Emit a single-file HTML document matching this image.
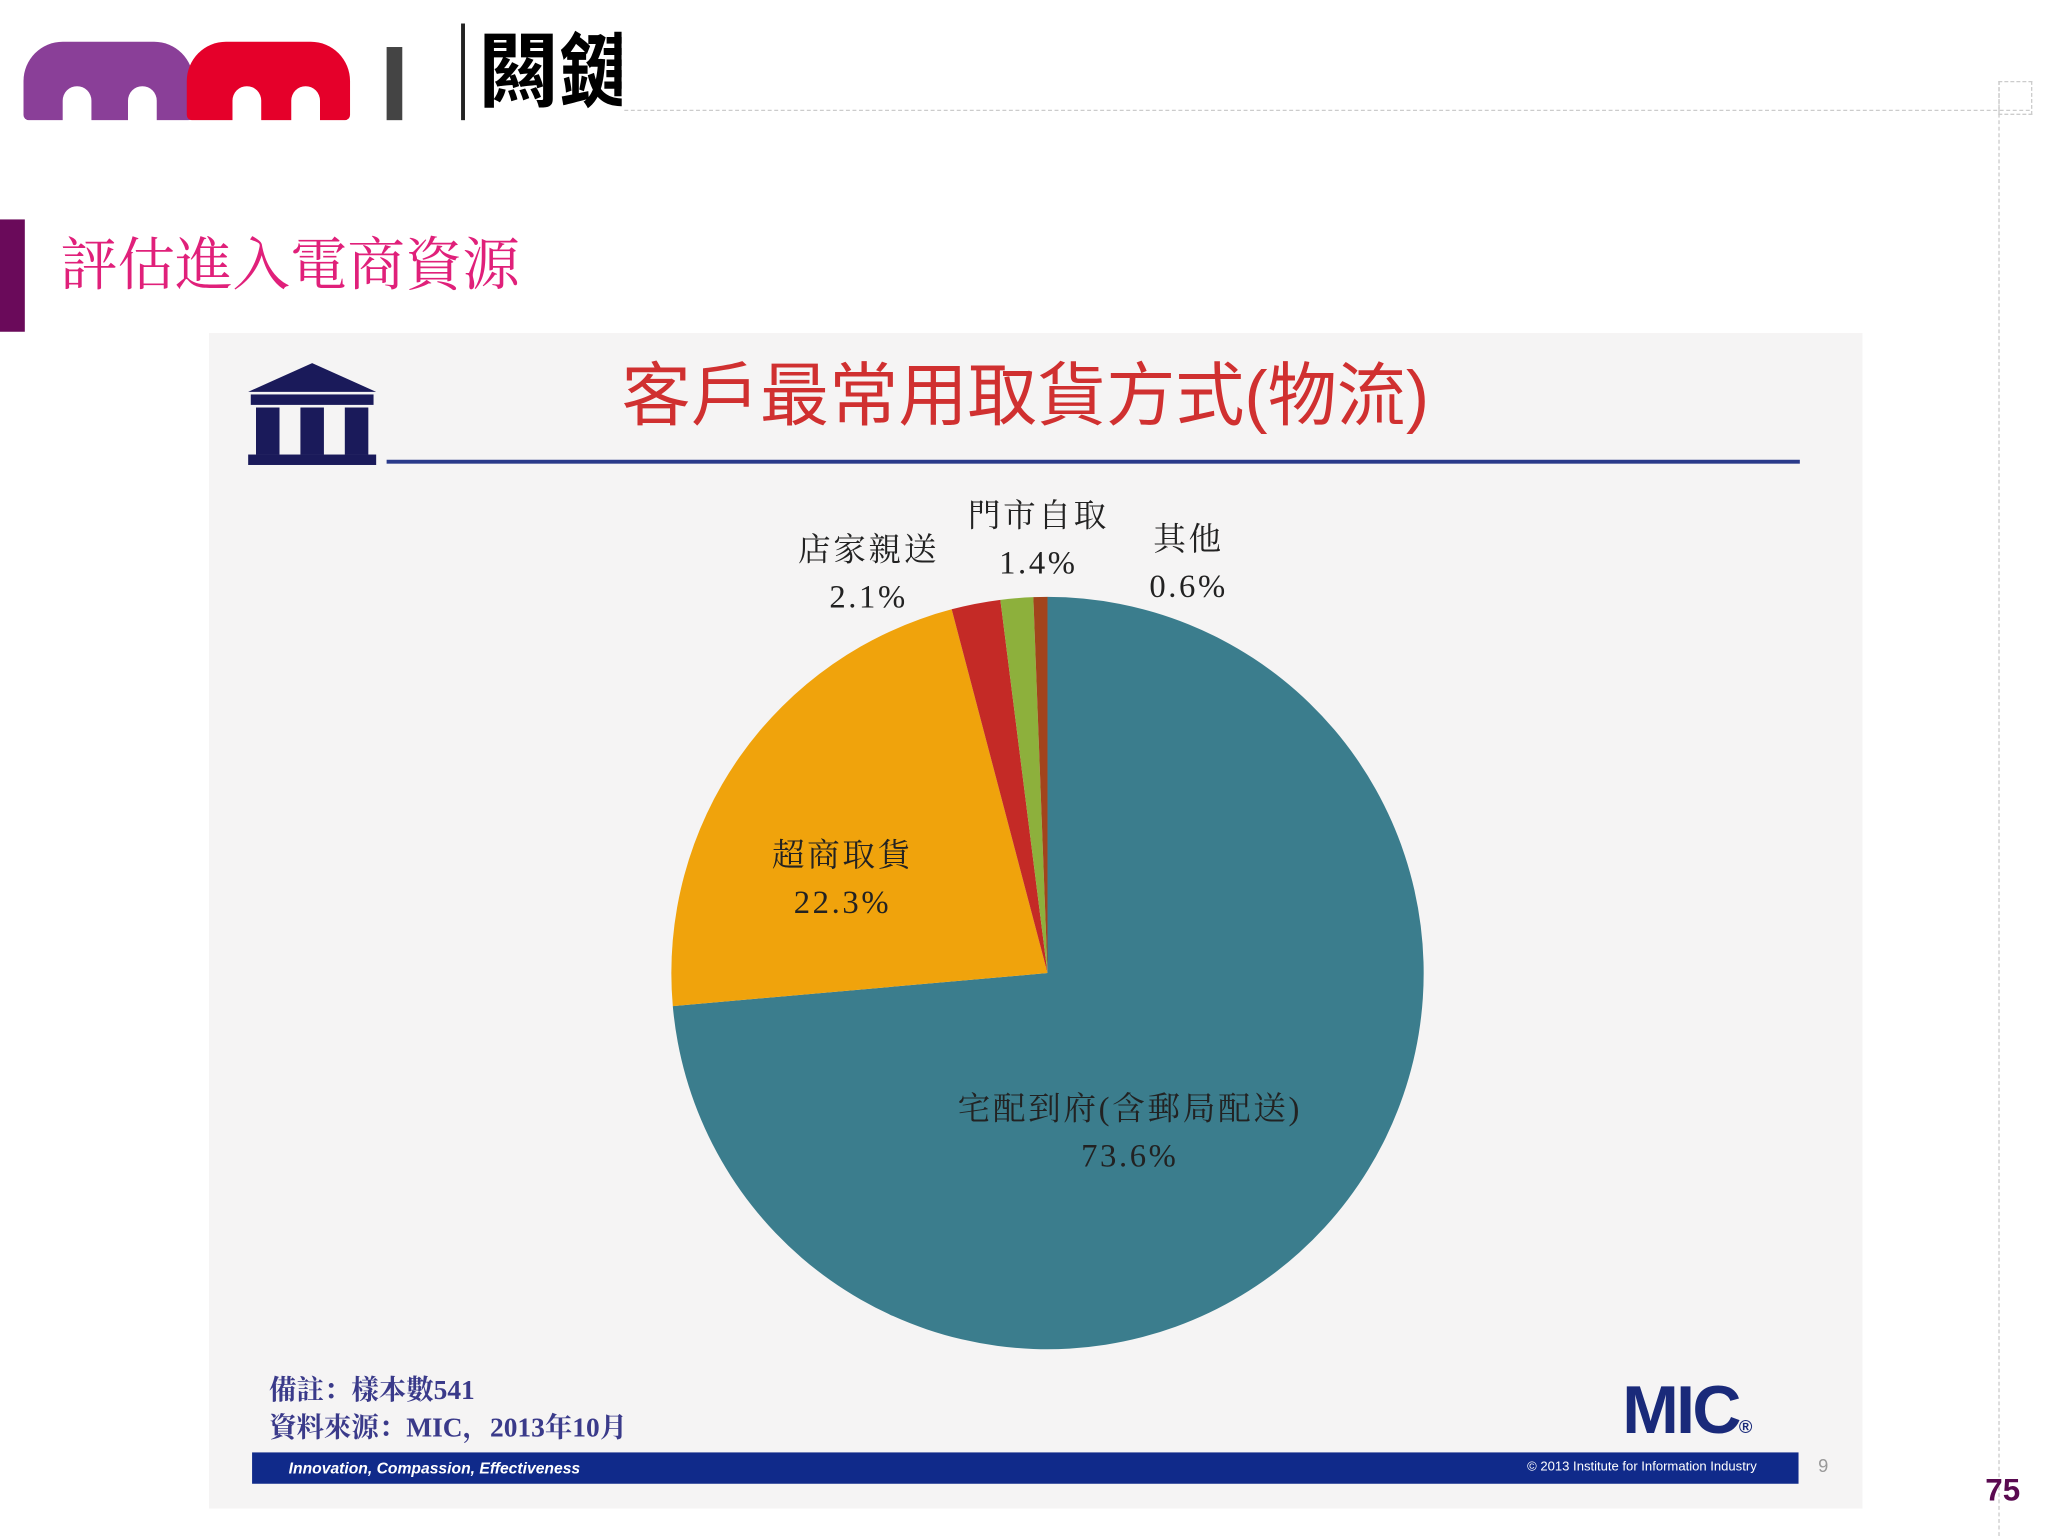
<!DOCTYPE html>
<html><head><meta charset="utf-8">
<style>
html,body{margin:0;padding:0;background:#fff;width:2048px;height:1536px;overflow:hidden}
#wrap{position:absolute;left:0;top:0;width:1568px;height:1176px;transform:scale(1.306122);transform-origin:0 0;font-family:"Liberation Serif","Noto Serif CJK SC",serif}
.abs{position:absolute}
.lbl{position:absolute;text-align:center;font-size:25px;color:#222;line-height:36px;letter-spacing:2px}
</style></head>
<body>
<div id="wrap">
  <div class="abs" style="left:18px;top:24px;width:460px;height:90px">
    <div class="abs" style="left:0;top:8px;width:130px;height:60px;background:#8a3f98;border-radius:30px 30px 4px 4px"></div>
    <div class="abs" style="left:125px;top:8px;width:125px;height:60px;background:#e5002a;border-radius:30px 30px 4px 4px"></div>
    <div class="abs" style="left:30px;top:42px;width:22px;height:30px;background:#fff;border-radius:11px 11px 0 0"></div>
    <div class="abs" style="left:80px;top:42px;width:22px;height:30px;background:#fff;border-radius:11px 11px 0 0"></div>
    <div class="abs" style="left:160px;top:42px;width:22px;height:30px;background:#fff;border-radius:11px 11px 0 0"></div>
    <div class="abs" style="left:205px;top:42px;width:22px;height:30px;background:#fff;border-radius:11px 11px 0 0"></div>
    <div class="abs" style="left:278px;top:12px;width:12px;height:56px;background:#444"></div>
    <div class="abs" style="left:335px;top:-6px;width:3px;height:74px;background:#222"></div>
    <div class="abs" style="left:348px;top:-2px;font-family:'Liberation Sans','Noto Sans CJK TC',sans-serif;font-weight:bold;font-size:62px;line-height:70px;color:#000;width:110px;overflow:hidden;white-space:nowrap">闗鍵</div>
  </div>
  <div class="abs" style="left:478px;top:84px;width:1076px;border-top:1px dashed #ccc"></div>
  <div class="abs" style="left:1530px;top:62px;height:1114px;border-left:1px dashed #ccc"></div>
  <div class="abs" style="left:1530px;top:62px;width:24px;height:24px;border:1px dashed #ccc"></div>
  <div class="abs" style="left:0;top:168px;width:19px;height:86px;background:#6a0a5a"></div>
  <div class="abs" style="left:46px;top:176px;font-size:44px;line-height:56px;color:#e0207a;font-family:'Liberation Serif','Noto Serif CJK SC',serif">評估進入電商資源</div>
  <div class="abs" style="left:160px;top:255px;width:1266px;height:900px;background:#f5f4f4"></div>
  <div class="abs" style="left:190px;top:278px;width:98px;height:80px">
    <div class="abs" style="left:0;top:0;width:0;height:0;border-left:49px solid transparent;border-right:49px solid transparent;border-bottom:22px solid #1a1a5a"></div>
    <div class="abs" style="left:2px;top:24px;width:94px;height:8px;background:#1a1a5a"></div>
    <div class="abs" style="left:6px;top:34px;width:18px;height:36px;background:#1a1a5a"></div>
    <div class="abs" style="left:40px;top:34px;width:18px;height:36px;background:#1a1a5a"></div>
    <div class="abs" style="left:74px;top:34px;width:18px;height:36px;background:#1a1a5a"></div>
    <div class="abs" style="left:0;top:70px;width:98px;height:8px;background:#1a1a5a"></div>
  </div>
  <div class="abs" style="left:300px;top:270px;width:970px;text-align:center;font-family:'Liberation Sans','Noto Sans CJK TC',sans-serif;font-size:53px;line-height:68px;color:#d03030">客戶最常用取貨方式(物流)</div>
  <div class="abs" style="left:296px;top:352px;width:1082px;height:3px;background:#2a3a8a"></div>
  <svg class="abs" id="pie" style="left:0;top:0" width="1568" height="1176"></svg>
  <div class="lbl" style="left:700px;top:832px;width:330px">宅配到府(含郵局配送)<br>73.6%</div>
  <div class="lbl" style="left:560px;top:638px;width:170px">超商取貨<br>22.3%</div>
  <div class="lbl" style="left:590px;top:404px;width:150px">店家親送<br>2.1%</div>
  <div class="lbl" style="left:720px;top:378px;width:150px">門市自取<br>1.4%</div>
  <div class="lbl" style="left:850px;top:396px;width:120px">其他<br>0.6%</div>
  <div class="abs" style="left:206px;top:1050px;font-size:21px;line-height:29px;color:#3a3a8a;font-weight:bold">備註：樣本數541<br>資料來源：MIC，2013年10月</div>
  <div class="abs" style="left:1242px;top:1050px;font-family:'Liberation Sans',sans-serif;font-weight:bold;font-size:52px;line-height:60px;color:#1a2a7a;letter-spacing:-2px">MIC<span style="font-size:14px">®</span></div>
  <div class="abs" style="left:193px;top:1112px;width:1184px;height:24px;background:#102a8a;color:#fff;font-family:'Liberation Sans',sans-serif;font-size:12px;line-height:24px">
    <span style="position:absolute;left:28px;font-style:italic;font-weight:bold">Innovation, Compassion, Effectiveness</span>
    <span style="position:absolute;right:32px;font-size:10px">© 2013 Institute for Information Industry</span>
  </div>
  <div class="abs" style="left:1392px;top:1114px;font-family:'Liberation Sans',sans-serif;font-size:14px;color:#999">9</div>
  <div class="abs" style="left:1520px;top:1128px;font-family:'Liberation Sans',sans-serif;font-weight:bold;font-size:24px;color:#5a0a50">75</div>
</div>
<script>
const categories = ["宅配到府(含郵局配送)","超商取貨","店家親送","門市自取","其他"];
const values = [73.6, 22.3, 2.1, 1.4, 0.6];
const colors = ["#3b7d8d","#f0a30c","#c42a26","#8db03c","#a2441c"];
const cx = 802, cy = 745, r = 288;
const svg = document.getElementById('pie');
const total = values.reduce((a,b)=>a+b,0);
let acc = 0;
function pt(frac){const a = frac*2*Math.PI - Math.PI/2; return [cx + r*Math.cos(a), cy + r*Math.sin(a)];}
values.forEach((v,i)=>{
  const s = acc/total, e = (acc+v)/total; acc += v;
  const [x1,y1] = pt(s), [x2,y2] = pt(e);
  const large = (e-s) > 0.5 ? 1 : 0;
  const p = document.createElementNS('http://www.w3.org/2000/svg','path');
  p.setAttribute('d',`M${cx},${cy} L${x1},${y1} A${r},${r} 0 ${large} 1 ${x2},${y2} Z`);
  p.setAttribute('fill',colors[i]);
  
  
  svg.appendChild(p);
});
</script>
</body></html>
